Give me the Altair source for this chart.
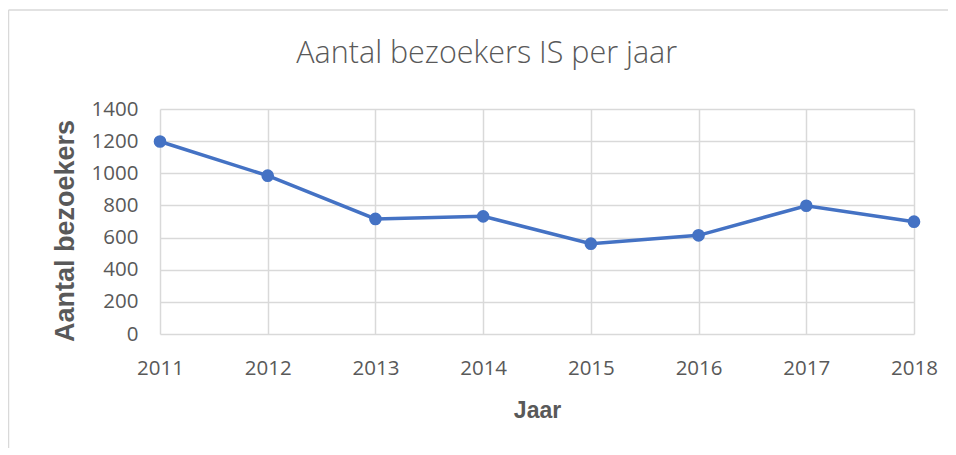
import altair as alt
import pandas as pd

years = [2011, 2012, 2013, 2014, 2015, 2016, 2017, 2018]
visitors = [1198, 985, 716, 732, 562, 614, 798, 699]
y_ticks = [0, 200, 400, 600, 800, 1000, 1200, 1400]
title_text = "Aantal bezoekers IS per jaar"
x_title = "Jaar"
y_title = "Aantal bezoekers"

df = pd.DataFrame({"Jaar": years, "Bezoekers": visitors})

TEXT = "#595959"
GRID = "#d9d9d9"
BLUE = "#4472C4"

x_enc = alt.X(
    "Jaar:Q",
    scale=alt.Scale(domain=[years[0], years[-1]], nice=False, zero=False),
    axis=alt.Axis(
        values=years, tickCount=len(years), format="d", title=x_title, domain=False, ticks=False, tickSize=0,
        labelPadding=24, labelFont="Open Sans", labelFontSize=20.5, labelColor=TEXT,
        labelFlush=False, labelOverlap=False, labelBound=False,
        grid=True, gridColor=GRID, gridWidth=1.5,
        titleFont="Liberation Sans", titleFontSize=23, titleFontWeight="bold", titleColor=TEXT,
        titleY=83, titleBaseline="alphabetic",
    ),
)
y_enc = alt.Y(
    "Bezoekers:Q",
    scale=alt.Scale(domain=[0, 1400], nice=False),
    axis=alt.Axis(
        values=y_ticks, tickCount=len(y_ticks), format="d", title=y_title, domain=False, ticks=False, tickSize=0,
        labelPadding=22, labelFont="Open Sans", labelFontSize=20.5, labelColor=TEXT,
        labelFlush=False, labelOverlap=False, labelBound=False,
        grid=True, gridColor=GRID, gridWidth=1.5,
        titleFont="Liberation Sans", titleFontSize=27, titleFontWeight="bold", titleColor=TEXT,
        titleAngle=270, titleX=-87, titleY=121.5, titleBaseline="alphabetic", titleAlign="center",
    ),
)

base = alt.Chart(df).encode(x=x_enc, y=y_enc)
line = base.mark_line(color=BLUE, strokeWidth=3.5)
pts = base.mark_circle(color=BLUE, opacity=1, size=160)

one = pd.DataFrame({"t": [title_text]})
title = alt.Chart(one).mark_text(
    font="Open Sans", fontSize=30.5, color=TEXT, align="center", baseline="alphabetic", fontWeight=300
).encode(text="t:N", x=alt.value(326.7), y=alt.value(-46.3))

border_top = alt.Chart(one).mark_rule(color=GRID, strokeWidth=1.5).encode(
    x=alt.value(-151.5), x2=alt.value(800), y=alt.value(-99)
)
border_left = alt.Chart(one).mark_rule(color=GRID, strokeWidth=1.5).encode(
    x=alt.value(-151.5), y=alt.value(-99), y2=alt.value(340)
)

chart = alt.layer(line, pts, border_top, border_left, title).properties(
    width=754, height=225,
    autosize=alt.AutoSizeParams(type="none"),
    padding={"left": 152, "top": 101, "right": 34, "bottom": 114},
    background="white",
).configure_view(stroke=None)

chart.save("out.html", embed_options={"renderer": "svg", "actions": False})
